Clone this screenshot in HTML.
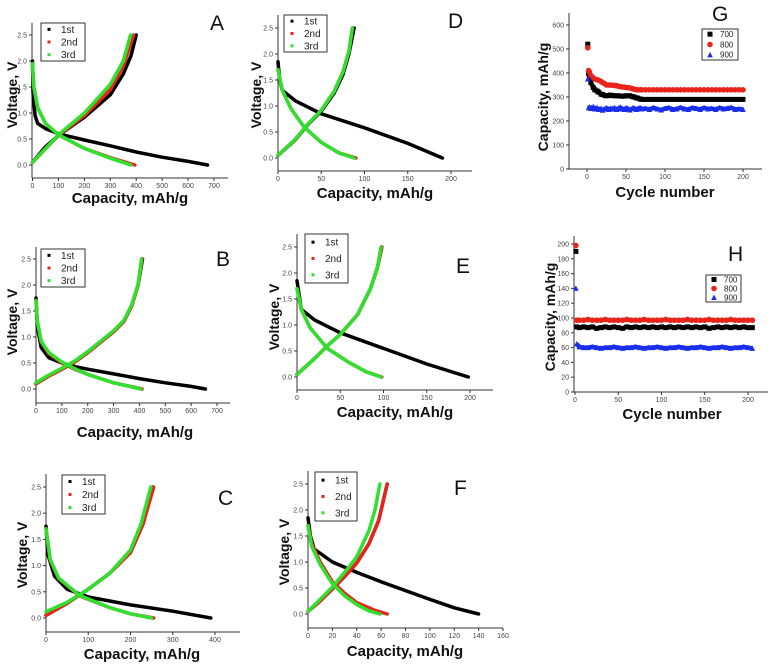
<!DOCTYPE html>
<html><head><meta charset="utf-8"><style>
html,body{margin:0;padding:0;background:#fff;}
svg{display:block;font-family:"Liberation Sans",Arial,sans-serif;}
</style></head><body>
<svg id="fig" width="774" height="665" viewBox="0 0 774 665" xmlns="http://www.w3.org/2000/svg"></svg>
<script>
// ---- data: voltage profiles [capacity, voltage] ----
const A_dis1=[[0,2.0],[2,1.4],[10,0.95],[20,0.8],[50,0.7],[100,0.6],[200,0.48],[300,0.37],[400,0.25],[500,0.15],[600,0.07],[675,0.0]];
const A_chg1=[[0,0.05],[50,0.35],[100,0.57],[200,0.92],[300,1.35],[350,1.75],[380,2.1],[400,2.5]];
const A_dis2=[[0,1.9],[5,1.5],[20,1.1],[50,0.8],[100,0.58],[200,0.32],[300,0.14],[395,0.0]];
const A_chg2=[[0,0.05],[100,0.57],[200,0.95],[300,1.45],[350,1.9],[390,2.5]];
const A_dis3=[[0,1.95],[5,1.5],[20,1.1],[50,0.8],[100,0.58],[200,0.32],[300,0.13],[380,0.0]];
const A_chg3=[[0,0.05],[100,0.58],[200,1.0],[300,1.55],[350,2.0],[378,2.5]];

const B_dis1=[[0,1.75],[5,1.2],[20,0.8],[50,0.6],[100,0.5],[150,0.43],[200,0.38],[300,0.29],[400,0.2],[500,0.12],[600,0.05],[655,0.0]];
const B_chg1=[[0,0.1],[50,0.25],[100,0.38],[150,0.52],[200,0.7],[250,0.9],[300,1.1],[340,1.3],[370,1.6],[395,2.0],[412,2.5]];
const B_dis2=[[0,1.7],[5,1.3],[20,0.9],[50,0.68],[100,0.5],[150,0.38],[200,0.28],[300,0.12],[410,0.0]];
const B_chg2=[[0,0.1],[50,0.25],[100,0.38],[150,0.52],[200,0.7],[250,0.9],[300,1.1],[340,1.3],[370,1.6],[395,2.0],[410,2.5]];
const B_dis3=[[0,1.7],[5,1.3],[20,0.92],[50,0.7],[100,0.52],[150,0.39],[200,0.28],[300,0.12],[405,0.0]];
const B_chg3=[[0,0.12],[50,0.27],[100,0.4],[150,0.54],[200,0.72],[250,0.92],[300,1.12],[340,1.32],[370,1.62],[395,2.02],[408,2.5]];

const C_dis1=[[0,1.75],[5,1.2],[20,0.8],[50,0.55],[100,0.4],[200,0.25],[300,0.13],[390,0.0]];
const C_chg1=[[0,0.05],[50,0.28],[100,0.55],[150,0.85],[200,1.25],[230,1.8],[252,2.5]];
const C_dis2=[[0,1.7],[10,1.1],[30,0.75],[80,0.42],[150,0.2],[200,0.08],[255,0.0]];
const C_chg2=[[0,0.05],[50,0.28],[100,0.55],[150,0.85],[200,1.25],[230,1.8],[255,2.5]];
const C_dis3=[[0,1.7],[10,1.12],[30,0.76],[80,0.43],[150,0.2],[200,0.08],[250,0.0]];
const C_chg3=[[0,0.12],[50,0.3],[100,0.55],[150,0.85],[200,1.3],[225,1.8],[248,2.5]];

const D_dis1=[[0,1.85],[2,1.5],[5,1.3],[20,1.1],[50,0.85],[100,0.58],[150,0.28],[190,0.0]];
const D_chg1=[[0,0.05],[20,0.35],[35,0.65],[50,0.9],[65,1.25],[75,1.6],[82,2.0],[88,2.5]];
const D_dis2=[[0,1.7],[5,1.3],[15,0.95],[30,0.6],[50,0.3],[70,0.1],[90,0.0]];
const D_chg2=[[0,0.05],[20,0.36],[35,0.66],[50,0.92],[65,1.28],[75,1.65],[82,2.05],[86,2.5]];
const D_dis3=[[0,1.7],[5,1.3],[15,0.95],[30,0.6],[50,0.3],[70,0.1],[88,0.0]];
const D_chg3=[[0,0.05],[20,0.36],[35,0.66],[50,0.92],[65,1.28],[75,1.65],[82,2.05],[86,2.5]];

const E_dis1=[[0,1.85],[5,1.3],[20,1.1],[50,0.85],[100,0.55],[150,0.25],[198,0.0]];
const E_chg1=[[0,0.05],[20,0.35],[35,0.6],[50,0.82],[70,1.2],[85,1.7],[93,2.1],[98,2.5]];
const E_dis2=[[0,1.7],[5,1.3],[15,0.95],[35,0.55],[60,0.28],[80,0.1],[98,0.0]];
const E_chg2=[[0,0.05],[20,0.35],[35,0.6],[50,0.82],[70,1.2],[85,1.7],[93,2.1],[98,2.5]];
const E_dis3=[[0,1.7],[5,1.3],[15,0.95],[35,0.55],[60,0.28],[80,0.1],[97,0.0]];
const E_chg3=[[0,0.05],[20,0.35],[35,0.6],[50,0.82],[70,1.2],[85,1.7],[93,2.1],[97,2.5]];

const F_dis1=[[0,1.85],[2,1.5],[5,1.25],[20,1.0],[40,0.8],[60,0.62],[80,0.45],[100,0.28],[120,0.12],[140,0.0]];
const F_chg1=[[0,0.05],[10,0.25],[20,0.48],[30,0.72],[40,0.98],[50,1.35],[58,1.8],[65,2.5]];
const F_dis2=[[0,1.7],[3,1.35],[10,1.0],[20,0.62],[30,0.4],[40,0.22],[55,0.07],[65,0.0]];
const F_chg2=[[0,0.05],[10,0.25],[20,0.48],[30,0.72],[40,0.98],[50,1.35],[58,1.8],[65,2.5]];
const F_dis3=[[0,1.7],[3,1.3],[10,0.95],[20,0.58],[30,0.35],[40,0.18],[50,0.06],[59,0.0]];
const F_chg3=[[0,0.05],[10,0.28],[20,0.52],[30,0.8],[40,1.1],[50,1.6],[55,2.0],[59,2.5]];

// ---- cycling data ----
const G_cycles=[1,2,3,5,8,10,13,15,18,20,23,25,28,30,33,35,38,40,43,45,48,50,53,55,58,60,63,65,68,70,75,80,85,90,95,100,105,110,115,120,125,130,135,140,145,150,155,160,165,170,175,180,185,190,195,200];
const G_700=[520,400,380,360,340,330,325,320,312,310,306,305,306,308,306,305,305,305,304,303,304,305,305,305,302,300,297,295,292,290,290,290,290,290,290,290,290,290,290,290,290,290,290,290,290,290,290,290,290,290,290,290,290,290,290,290];
const G_800=[505,410,405,390,380,375,372,370,365,360,355,350,350,350,349,348,347,345,343,342,341,340,339,338,335,333,331,330,330,330,330,330,330,330,330,330,330,330,330,330,330,330,330,330,330,330,330,330,330,330,330,330,330,330,330,330];
const G_900=[375,255,258,252,260,250,255,248,252,245,250,255,248,252,250,255,248,252,258,250,248,255,250,246,252,255,248,250,256,250,252,248,255,250,246,252,255,248,250,256,250,248,255,252,248,255,250,252,248,255,250,252,256,248,250,248];
const H_cycles=[1,2,5,10,15,20,25,30,35,40,45,50,55,60,65,70,75,80,85,90,95,100,105,110,115,120,125,130,135,140,145,150,155,160,165,170,175,180,185,190,195,200,205];
const H_700=[190,88,87,88,87,88,86,87,88,87,88,87,86,88,87,88,87,88,87,88,87,88,87,88,87,88,87,88,87,88,87,88,86,87,88,87,88,87,88,87,88,87,87];
const H_800=[198,97,97,97,98,97,97,97,98,97,97,97,97,98,97,97,97,98,97,97,97,97,98,97,97,97,97,98,97,97,97,97,98,97,97,97,97,98,97,97,97,97,97];
const H_900=[140,65,61,60,60,61,60,59,60,60,61,60,59,60,60,61,60,59,60,60,61,60,59,60,60,61,60,59,60,60,61,60,59,60,60,61,60,59,60,60,61,60,59];

const NS="http://www.w3.org/2000/svg";
const svg=document.getElementById('fig');
function mk(tag,attrs,parent){const e=document.createElementNS(NS,tag);for(const k in attrs)e.setAttribute(k,attrs[k]);(parent||svg).appendChild(e);return e;}
const COL={k:'#000',r:'#e8241c',g:'#2fe02f',b:'#1a2ef0'};

function axes(p){
  const g=mk('g',{});
  
  
  const sx=v=>p.x0+(v-p.xa)*(p.x1-p.x0)/(p.xb-p.xa);
  const sy=v=>p.y0+(v-p.ya)*(p.y1-p.y0)/(p.yb-p.ya);
  mk('line',{x1:p.L,y1:p.B,x2:p.R,y2:p.B,stroke:'#333','stroke-width':1},g);
  mk('line',{x1:p.L,y1:p.B,x2:p.L,y2:p.T,stroke:'#333','stroke-width':1},g);
  p.xt.forEach(v=>{const x=sx(v);mk('line',{x1:x,y1:p.B,x2:x,y2:p.B+3,stroke:'#333'},g);
    const t=mk('text',{x:x,y:p.B+10,'font-size':7,fill:'#444','text-anchor':'middle'},g);t.textContent=v;
    });
  p.yt.forEach(v=>{const y=sy(v);mk('line',{x1:p.L-3,y1:y,x2:p.L,y2:y,stroke:'#333'},g);
    const t=mk('text',{x:p.L-5,y:y+2.5,'font-size':7,fill:'#444','text-anchor':'end'},g);t.textContent=p.yf?p.yf(v):v;
    });
  const xl=mk('text',{x:p.xlx,y:p.xly,'font-size':15,'font-weight':'bold','text-anchor':'middle',fill:'#111'},g);
  xl.textContent=p.xlab;
  const yl=mk('text',{x:0,y:0,'font-size':14,'font-weight':'bold','text-anchor':'middle',fill:'#111',transform:`translate(${p.ylx},${p.yly}) rotate(-90)`},g);
  yl.textContent=p.ylab;
  const lt=mk('text',{x:p.lx,y:p.ly,'font-size':21,fill:'#111'},g);lt.textContent=p.id;
  
  return {g,sx,sy};
}
function legend(g,box,labels,cols,shapes,fs){
  const lg=mk('g',{},g);
  
  mk('rect',{x:box[0],y:box[1],width:box[2]-box[0],height:box[3]-box[1],fill:'#fff',stroke:'#333'},lg);
  const h=(box[3]-box[1])/labels.length;
  labels.forEach((l,i)=>{const cy=box[1]+h*(i+0.5);
    const mx=box[0]+8;
    if(shapes){marker(lg,shapes[i],mx,cy,cols[i],5);}else mk('rect',{x:mx-1.5,y:cy-1.5,width:3,height:3,fill:cols[i]},lg);
    const t=mk('text',{x:box[0]+(shapes?18:20),y:cy+fs*0.35,'font-size':fs,fill:'#222'},lg);t.textContent=l;
    });
}
function marker(g,s,x,y,c,sz){
  if(s==='sq')return mk('rect',{x:x-sz/2,y:y-sz/2,width:sz,height:sz,fill:c},g);
  if(s==='ci')return mk('circle',{cx:x,cy:y,r:sz/2+0.3,fill:c},g);
  return mk('polygon',{points:`${x},${y-sz/2-0.5} ${x-sz/2-0.3},${y+sz/2} ${x+sz/2+0.3},${y+sz/2}`,fill:c},g);
}
function curve(ax,pts,c,name){
  const d=pts.map((p,i)=>(i?'L':'M')+ax.sx(p[0]).toFixed(1)+','+ax.sy(p[1]).toFixed(1)).join('');
  const e=mk('path',{d:d,fill:'none',stroke:c,'stroke-width':3.5,'stroke-linecap':'round','stroke-linejoin':'round'},ax.g);
  
}
const VT=[0,0.5,1,1.5,2,2.5], vf=v=>v.toFixed(1);
const panels=[
 {id:'A',L:32,R:228,T:23,B:178,x0:32.5,x1:214,xa:0,xb:700,y0:165,y1:35,ya:0,yb:2.5,xt:[0,100,200,300,400,500,600,700],xlx:130,xly:203,ylx:17,yly:95,lx:210,ly:30,leg:[41,23,85,61],d:[A_dis1,A_chg1,A_dis2,A_chg2,A_dis3,A_chg3]},
 {id:'B',L:36,R:230,T:247,B:403,x0:36,x1:217,xa:0,xb:700,y0:389,y1:259,ya:0,yb:2.5,xt:[0,100,200,300,400,500,600,700],xlx:135,xly:437,ylx:17,yly:322,lx:216,ly:266,leg:[41,249,85,287],d:[B_dis1,B_chg1,B_dis2,B_chg2,B_dis3,B_chg3]},
 {id:'C',L:46,R:240,T:474,B:632,x0:46,x1:215,xa:0,xb:400,y0:618,y1:487,ya:0,yb:2.5,xt:[0,100,200,300,400],xlx:142,xly:659,ylx:27,yly:555,lx:218,ly:505,leg:[62,475,105,514],d:[C_dis1,C_chg1,C_dis2,C_chg2,C_dis3,C_chg3]},
 {id:'D',L:278,R:472,T:15,B:171,x0:278,x1:451,xa:0,xb:200,y0:158,y1:28,ya:0,yb:2.5,xt:[0,50,100,150,200],xlx:375,xly:198,ylx:261,yly:95,lx:448,ly:28,leg:[284,15,327,52],d:[D_dis1,D_chg1,D_dis2,D_chg2,D_dis3,D_chg3]},
 {id:'E',L:297,R:493,T:234,B:390,x0:297,x1:470,xa:0,xb:200,y0:377,y1:247,ya:0,yb:2.5,xt:[0,50,100,150,200],xlx:395,xly:417,ylx:279,yly:317,lx:456,ly:273,leg:[305,234,348,283],d:[E_dis1,E_chg1,E_dis2,E_chg2,E_dis3,E_chg3]},
 {id:'F',L:308,R:503,T:471,B:628,x0:308,x1:503,xa:0,xb:160,y0:614,y1:484,ya:0,yb:2.5,xt:[0,20,40,60,80,100,120,140,160],xlx:405,xly:656,ylx:289,yly:552,lx:454,ly:495,leg:[315,472,357,521],d:[F_dis1,F_chg1,F_dis2,F_chg2,F_dis3,F_chg3]}
];
panels.forEach(p=>{
  p.yt=VT;p.yf=vf;p.xlab='Capacity, mAh/g';p.ylab='Voltage, V';
  const ax=axes(p);
  const cols=[COL.k,COL.k,COL.r,COL.r,COL.g,COL.g];
  const nm=['cycle1-discharge','cycle1-charge','cycle2-discharge','cycle2-charge','cycle3-discharge','cycle3-charge'];
  p.d.forEach((c,i)=>curve(ax,c,cols[i],nm[i]));
  legend(ax.g,p.leg,['1st','2nd','3rd'],[COL.k,COL.r,COL.g],null,10);
});
const cyc=[
 {id:'G',L:569,R:762,T:13,B:169,x0:587,x1:743,xa:0,xb:200,y0:169,y1:25,ya:0,yb:600,xt:[0,50,100,150,200],yt:[0,100,200,300,400,500,600],xlx:665,xly:197,ylx:548,yly:97,lx:712,ly:21,leg:[702,29,738,60],cx:G_cycles,s:[G_700,G_800,G_900]},
 {id:'H',L:574,R:768,T:236,B:392,x0:575,x1:748,xa:0,xb:200,y0:392,y1:244,ya:0,yb:200,xt:[0,50,100,150,200],yt:[0,20,40,60,80,100,120,140,160,180,200],xlx:672,xly:419,ylx:555,yly:317,lx:728,ly:261,leg:[706,275,741,302],cx:H_cycles,s:[H_700,H_800,H_900]}
];
cyc.forEach(p=>{
  p.xlab='Cycle number';p.ylab='Capacity, mAh/g';
  const ax=axes(p);
  const sh=['sq','ci','tr'],cols=[COL.k,COL.r,COL.b],nm=['series-700','series-800','series-900'];
  p.s.forEach((vals,si)=>{
    const sg=mk('g',{},ax.g);
    
    vals.forEach((v,i)=>{const m=marker(sg,sh[si],ax.sx(p.cx[i]),ax.sy(v),cols[si],5);
      });
    for(let i=1;i<vals.length;i++){ // connecting band of markers between samples
      const d=`M${ax.sx(p.cx[i-1]).toFixed(1)},${ax.sy(vals[i-1]).toFixed(1)}L${ax.sx(p.cx[i]).toFixed(1)},${ax.sy(vals[i]).toFixed(1)}`;
      if(i>1){const e=mk('path',{d:d,stroke:cols[si],'stroke-width':4.5,fill:'none'},sg);
        }
    }
  });
  legend(ax.g,p.leg,['700','800','900'],cols,sh,8);
});
</script>
</body></html>
